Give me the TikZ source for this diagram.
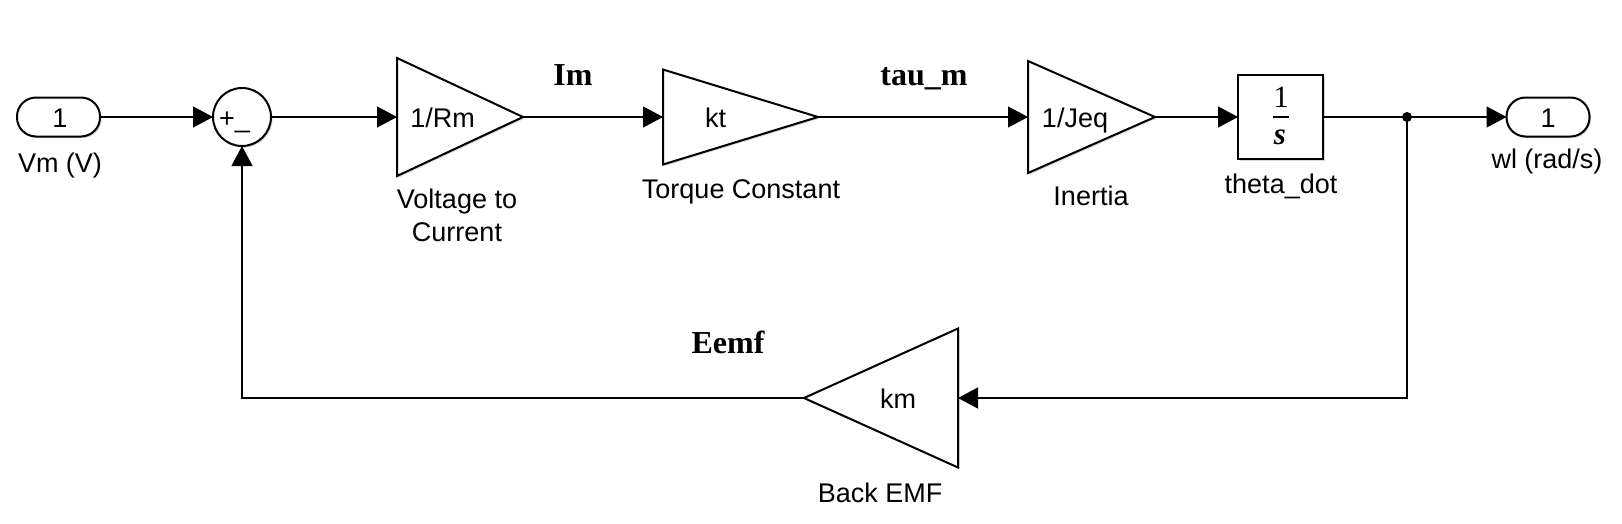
\documentclass[tikz,border=0pt]{standalone}
\usepackage{fontspec}
\setmainfont{Liberation Sans}
\newfontfamily\serifface{Liberation Serif}
\usetikzlibrary{arrows.meta,shapes.geometric,shadows}
\begin{document}
\begin{tikzpicture}[x=1pt,y=-1pt,
  sig/.style={line width=1.2pt,-{Triangle[length=20pt,width=21pt]}},
  wire/.style={line width=1.2pt},
  blk/.style={draw,line width=2pt,fill=white,inner sep=0pt,outer sep=0pt,
    drop shadow={shadow xshift=1.6pt,shadow yshift=-1.6pt,opacity=0.3}},
  gain/.style={blk,isosceles triangle,isosceles triangle stretches},
  port/.style={blk,rounded corners=19pt,minimum width=83pt,minimum height=39pt},
  lbl/.style={font=\fontsize{27}{33}\selectfont,inner sep=0pt,align=center},
  siglbl/.style={font=\serifface\bfseries\fontsize{32}{36}\selectfont,inner sep=0pt},
  frac/.style={font=\serifface\fontsize{31}{36}\selectfont,inner sep=0pt}
]
\path[use as bounding box] (0,0) rectangle (1622,523);

% input port
\node[port] (in) at (58.5,117) {};
\node[lbl,anchor=base] (inNum) at (60,127) {1};
\node[lbl,anchor=base] (inL) at (60,172) {Vm (V)};

% sum
\node[blk,circle,minimum size=58pt] (sum) at (242,117) {};
\node[lbl,anchor=base west] (signs) at (219,127) {+\_};

% gain 1 (minimum height = apex direction, minimum width = base length)
\node[gain,minimum height=126pt,minimum width=118pt,anchor=west] (g1) at (397,117) {};
\node[lbl,anchor=base] (g1t) at (442.5,127) {1/Rm};
\node[lbl] (g1L) at (457,215.5) {Voltage to\\Current};
\node[siglbl,anchor=base] (Im) at (573,85) {Im};

% gain 2
\node[gain,minimum height=155pt,minimum width=95pt,anchor=west] (g2) at (663,117) {};
\node[lbl,anchor=base] (g2t) at (715.5,127) {kt};
\node[lbl,anchor=base] (g2L) at (741,198) {Torque Constant};
\node[siglbl,anchor=base] (tau) at (924,85) {tau\_m};

% gain 3
\node[gain,minimum height=127pt,minimum width=112pt,anchor=west] (g3) at (1028,117) {};
\node[lbl,anchor=base] (g3t) at (1075,127) {1/Jeq};
\node[lbl,anchor=base] (g3L) at (1091,205) {Inertia};

% integrator
\node[blk,minimum width=85pt,minimum height=84pt] (integ) at (1280.5,117) {};
\node[frac,anchor=base] (num) at (1281,107) {1};
\node[frac,anchor=base] (den) at (1280,144) {\bfseries\itshape s};
\draw[line width=2pt] ([xshift=-8pt]integ.center) -- ([xshift=8pt]integ.center);
\node[lbl,anchor=base] (integL) at (1281,193) {theta\_dot};

% junction and output port
\node[circle,fill=black,inner sep=0pt,minimum size=10pt] (jn) at (1407,117) {};
\node[port] (out) at (1548,117) {};
\node[lbl,anchor=base] (outNum) at (1548,127) {1};
\node[lbl,anchor=base] (outL) at (1547,168) {wl (rad/s)};

% back emf gain
\node[gain,shape border rotate=180,minimum height=154pt,minimum width=139pt,anchor=east] (km) at (958,398) {};
\node[lbl,anchor=base] (kmt) at (898,408) {km};
\node[lbl,anchor=base] (kmL) at (880,502) {Back EMF};
\node[siglbl,anchor=base] (Eemf) at (728,353) {Eemf};

% connectors
\draw[sig] (in.east) -- (sum.west);
\draw[sig] (sum.east) -- (g1.west);
\draw[sig] (g1.apex) -- (g2.west);
\draw[sig] (g2.apex) -- (g3.west);
\draw[sig] (g3.apex) -- (integ.west);
\draw[wire] (integ.east) -- (jn.center);
\draw[sig] (jn.center) -- (out.west);
\draw[sig] (jn.center) |- (km.east);
\draw[sig] (km.apex) -| (sum.south);
\end{tikzpicture}
\end{document}
